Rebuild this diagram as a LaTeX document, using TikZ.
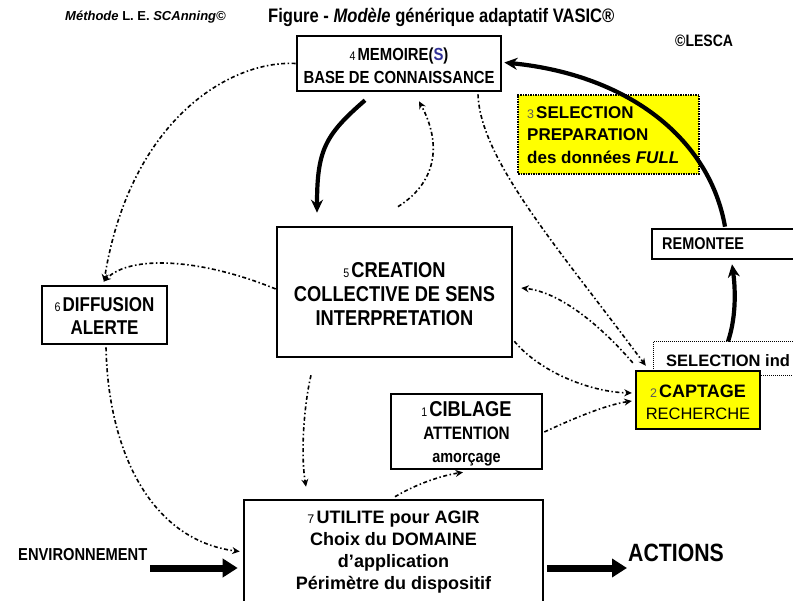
\documentclass[tikz,border=0pt]{standalone}
\usepackage{fontspec}
\setmainfont{Liberation Sans}
\newfontfamily\cond[FakeStretch=0.85]{Liberation Sans}
\usetikzlibrary{arrows.meta,calc}
\definecolor{ylw}{RGB}{255,255,0}
\definecolor{sblue}{RGB}{51,51,153}
\newcommand\numsm[1]{{\mdseries\upshape\fontsize{12.5}{12.5}\selectfont #1\,}}
\begin{document}
\begin{tikzpicture}[x=1pt,y=-1pt,
 box/.style={draw,line width=2.6pt,inner sep=0pt},
 txt/.style={inner sep=0pt,align=center},
 dd/.style={line width=1.6pt,dash pattern=on 4pt off 2.5pt on 1.5pt off 2.5pt,-{Stealth[length=7.5pt,width=7pt]}},
 thk/.style={line width=4.2pt,-{Stealth[length=13pt,width=12pt]}},
 fat/.style={line width=7pt,-{Triangle[length=15pt,width=18pt]}}]
\useasboundingbox (0,0) rectangle (793,601);
\clip (0,0) rectangle (793,601);

% titles
\node[txt,anchor=west,font=\bfseries\fontsize{13}{13}\selectfont] (methode) at (65,17) {\textit{Méthode} L. E. \textit{SCAnning©}};
\node[txt,anchor=west,font=\cond\bfseries\fontsize{19.5}{20}\selectfont] (figure) at (268,17) {Figure - \textit{Modèle} générique adaptatif VASIC®};
\node[txt,anchor=west,font=\cond\bfseries\fontsize{16.5}{17}\selectfont] (lesca) at (675,41) {©LESCA};

% boxes
\node[box,minimum width=204pt,minimum height=55pt] (mem) at (399,63.5) {};
\node[draw,fill=ylw,line width=1.3pt,dash pattern=on 1.5pt off 1pt,minimum width=181pt,minimum height=79pt,inner sep=0pt] (sel3) at (608.5,134.5) {};
\node[box,minimum width=235pt,minimum height=130pt] (crea) at (394.5,292) {};
\node[box,minimum width=125pt,minimum height=58pt] (diff) at (104.5,315) {};
\node[box,minimum width=168pt,minimum height=30pt] (remo) at (736,244) {};
\node[draw,line width=1pt,dash pattern=on 1pt off 1pt,minimum width=167pt,minimum height=34pt,inner sep=0pt] (selind) at (736.5,359) {};
\node[box,fill=ylw,line width=2.4pt,minimum width=124pt,minimum height=58pt] (capt) at (698,400) {};
\node[box,minimum width=151pt,minimum height=75pt] (cibl) at (466.5,431.5) {};
\node[box,minimum width=299pt,minimum height=105pt] (util) at (393.5,552.5) {};

% texts
\node[txt,font=\cond\bfseries\fontsize{17.5}{23}\selectfont] (memtxt) at (399,66) {\numsm{4}MEMOIRE(\textcolor{sblue}{S})\\BASE DE CONNAISSANCE};
\node[txt,align=left,anchor=west,font=\bfseries\fontsize{17}{22.5}\selectfont] (sel3txt) at (527,135) {{\color{black!65}\numsm{3}}SELECTION\\PREPARATION\\des données \textit{FULL}};
\node[txt,font=\cond\bfseries\fontsize{21.5}{24}\selectfont] (creatxt) at (394.5,294) {\numsm{5}CREATION\\COLLECTIVE DE SENS\\INTERPRETATION};
\node[txt,font=\cond\bfseries\fontsize{20}{23}\selectfont] (difftxt) at (104.5,316) {\numsm{6}DIFFUSION\\ALERTE};
\node[txt,anchor=west,font=\cond\bfseries\fontsize{17}{17}\selectfont] (remotxt) at (662,244) {REMONTEE};
\node[txt,anchor=west,font=\bfseries\fontsize{16.5}{16.5}\selectfont] (selindtxt) at (666,361) {SELECTION ind};
\node[txt,font=\bfseries\fontsize{18}{22}\selectfont] (capttxt) at (698,402) {{\color{black!65}\numsm{2}}CAPTAGE\\{\mdseries\fontsize{16.5}{22}\selectfont RECHERCHE}};
\node[txt,font=\cond\bfseries\fontsize{21.5}{23}\selectfont] (cibltxt) at (466.5,434) {\numsm{1}CIBLAGE\\{\fontsize{18}{21}\selectfont ATTENTION}\\{\fontsize{17}{20}\selectfont amorçage}};
\node[txt,font=\bfseries\fontsize{18}{22}\selectfont] (utiltxt) at (393.5,552) {\numsm{7}UTILITE pour AGIR\\Choix du DOMAINE\\d’application\\Périmètre du dispositif};
\node[txt,anchor=west,font=\cond\bfseries\fontsize{17.3}{18}\selectfont] (env) at (18,555) {ENVIRONNEMENT};
\node[txt,anchor=west,font=\cond\bfseries\fontsize{25}{26}\selectfont] (actions) at (628,553) {ACTIONS};

% dash-dot connectors
\draw[dd] ([shift={(3.5,-19)}]crea.north) .. controls (440,180) and (440,140) .. ([shift={(20,9)}]mem.south);
\draw[dd] (mem.west) .. controls (230,60) and (130,120) .. ([shift={(-0.5,-3)}]diff.north);
\draw[dd] ([shift={(0,-3)}]crea.west) .. controls (200,258) and (130,255) .. ([shift={(-1,-3)}]diff.north);
\draw[dd] ([shift={(1.5,2)}]diff.south) .. controls (108,450) and (150,540) .. ([shift={(-3,-1)}]util.west);
\draw[dd] ([shift={(-83.5,17)}]crea.south) .. controls (305,400) and (300,450) .. ([shift={(-87.5,-12)}]util.north);
\draw[dd] ([shift={(1.5,-2)}]util.north) .. controls (420,482) and (445,475) .. ([shift={(-3.5,2)}]cibl.south);
\draw[dd] ([shift={(1,0.5)}]cibl.east) .. controls (570,420) and (605,405) .. ([shift={(-3,1)}]capt.west);
\draw[dd] ([shift={(1,-17)}]crea.south east) .. controls (540,372) and (590,392) .. ([shift={(-3,-7)}]capt.west);
\draw[dd] ([shift={(-2,-7)}]capt.north west) .. controls (600,325) and (560,292) .. ([shift={(8,-4)}]crea.east);
\draw[dd] ([shift={(79,2)}]mem.south) .. controls (480,160) and (560,250) .. ([shift={(11,-4)}]capt.north west);

% thick connectors
\draw[thk] ([shift={(-34,8)}]mem.south) .. controls (325,135) and (317,150) .. ([shift={(-77.5,-13)}]crea.north);
\draw[thk] ([shift={(-8.5,0)}]selind.north) .. controls (737,315) and (735,285) .. ([shift={(-4,4)}]remo.south);
\draw[thk] ([shift={(-11,-1)}]remo.north) .. controls (710,140) and (630,75) .. ([shift={(2,-1)}]mem.east);

% fat arrows
\coordinate (envstart) at (150,568);
\coordinate (actend) at (627,568);
\draw[fat] (envstart) -- ([shift={(-5,15.5)}]util.west);
\draw[fat] ([shift={(3,15.5)}]util.east) -- (actend);
\end{tikzpicture}
\end{document}
